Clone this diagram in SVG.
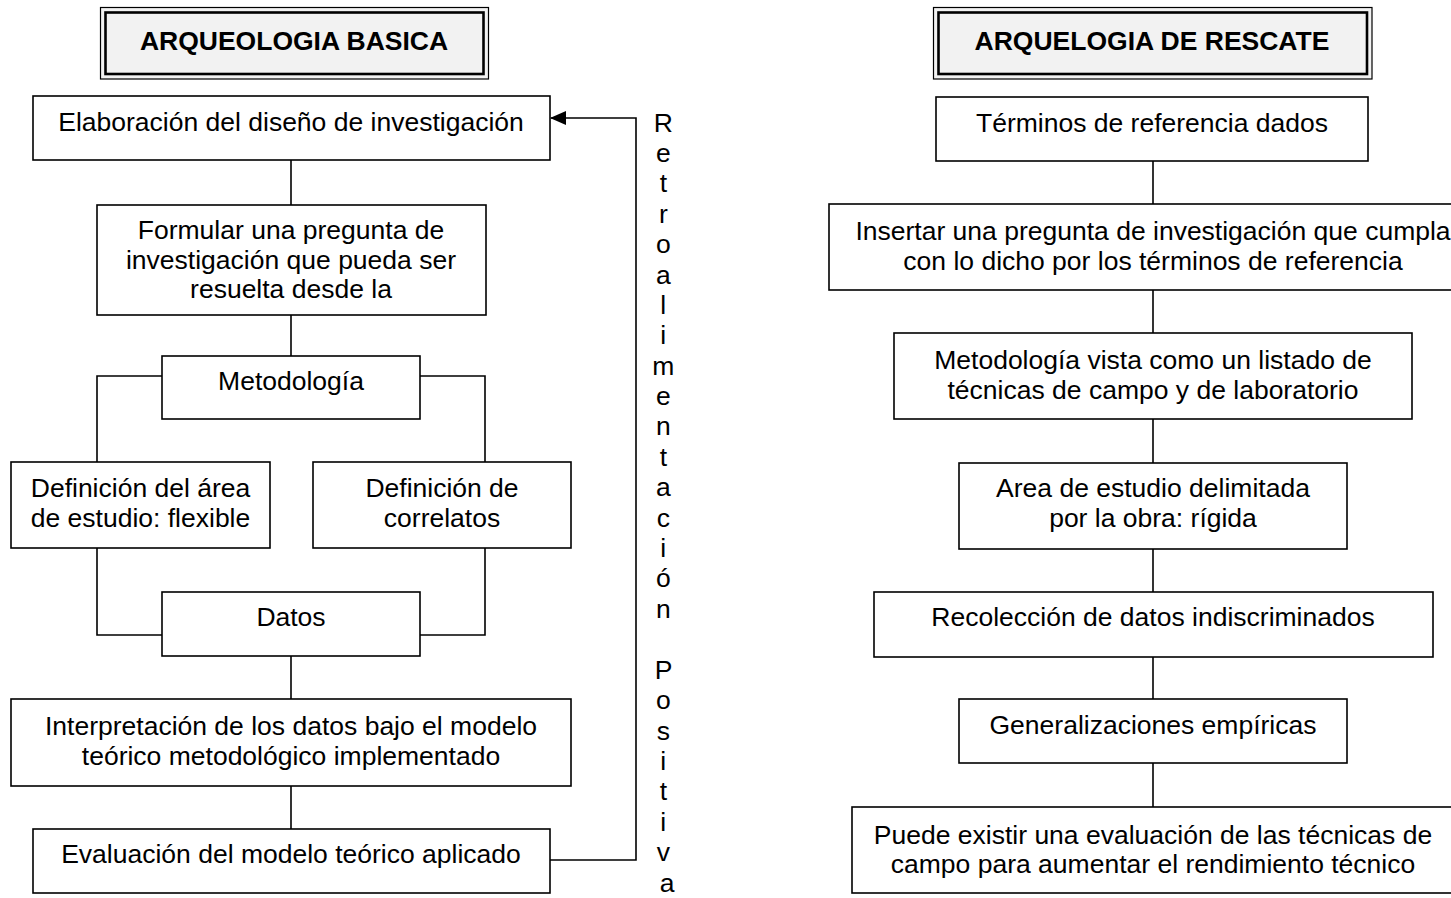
<svg xmlns="http://www.w3.org/2000/svg" width="1451" height="898" viewBox="0 0 1451 898">
<style>
  .box { fill: #ffffff; stroke: #000; stroke-width: 1.6; }
  .frame-out { fill: #f2f2f2; stroke: #000; stroke-width: 1.2; }
  .frame-in { fill: #f2f2f2; stroke: #000; stroke-width: 2.6; }
  .t { font-family: "Liberation Sans", Arial, sans-serif; font-size: 26.5px; fill: #000; text-anchor: middle; }
  .title { font-family: "Liberation Sans", Arial, sans-serif; font-size: 26.5px; font-weight: bold; fill: #000; text-anchor: middle; }
  .conn { fill: none; stroke: #000; stroke-width: 1.6; }
</style>
<defs>
  <marker id="arrow" viewBox="0 0 16 14" refX="15" refY="7" markerWidth="16" markerHeight="14" markerUnits="userSpaceOnUse" orient="auto">
    <path d="M0,0 L16,7 L0,14 Z" fill="#000"/>
  </marker>
</defs>
<rect width="1451" height="898" fill="#ffffff"/>

<g id="connectors">
  <line class="conn" x1="291" y1="160" x2="291" y2="205"/>
  <line class="conn" x1="291" y1="315" x2="291" y2="356"/>
  <polyline class="conn" points="162,376 97,376 97,462"/>
  <polyline class="conn" points="420,376 485,376 485,462"/>
  <polyline class="conn" points="97,548 97,635 162,635"/>
  <polyline class="conn" points="485,548 485,635 420,635"/>
  <line class="conn" x1="291" y1="656" x2="291" y2="699"/>
  <line class="conn" x1="291" y1="786" x2="291" y2="829"/>
  <polyline class="conn" points="550,860 636,860 636,118 551,118" marker-end="url(#arrow)"/>
  <line class="conn" x1="1153" y1="161" x2="1153" y2="204"/>
  <line class="conn" x1="1153" y1="290" x2="1153" y2="333"/>
  <line class="conn" x1="1153" y1="419" x2="1153" y2="463"/>
  <line class="conn" x1="1153" y1="549" x2="1153" y2="592"/>
  <line class="conn" x1="1153" y1="657" x2="1153" y2="699"/>
  <line class="conn" x1="1153" y1="763" x2="1153" y2="807"/>
</g>

<g id="title-basica">
  <rect class="frame-out" x="100.5" y="7.5" width="388" height="71.5"/>
  <rect class="frame-in" x="105.5" y="12.5" width="378" height="61.5"/>
  <text class="title" x="294" y="50">ARQUEOLOGIA BASICA</text>
</g>
<g id="title-rescate">
  <rect class="frame-out" x="933.5" y="7.5" width="438.5" height="71.5"/>
  <rect class="frame-in" x="938.5" y="12.5" width="428.5" height="61.5"/>
  <text class="title" x="1152" y="50">ARQUELOGIA DE RESCATE</text>
</g>

<g id="b1">
  <rect class="box" x="33" y="96" width="517" height="64"/>
  <text class="t" x="291" y="131">Elaboración del diseño de investigación</text>
</g>
<g id="b2">
  <rect class="box" x="97" y="205" width="389" height="110"/>
  <text class="t" x="291" y="239">Formular una pregunta de</text>
  <text class="t" x="291" y="268.5">investigación que pueda ser</text>
  <text class="t" x="291" y="298">resuelta desde la</text>
</g>
<g id="b3">
  <rect class="box" x="162" y="356" width="258" height="63"/>
  <text class="t" x="291" y="390">Metodología</text>
</g>
<g id="b4">
  <rect class="box" x="11" y="462" width="259" height="86"/>
  <text class="t" x="140.5" y="497">Definición del área</text>
  <text class="t" x="140.5" y="527">de estudio: flexible</text>
</g>
<g id="b5">
  <rect class="box" x="313" y="462" width="258" height="86"/>
  <text class="t" x="442" y="497">Definición de</text>
  <text class="t" x="442" y="527">correlatos</text>
</g>
<g id="b6">
  <rect class="box" x="162" y="592" width="258" height="64"/>
  <text class="t" x="291" y="626">Datos</text>
</g>
<g id="b7">
  <rect class="box" x="11" y="699" width="560" height="87"/>
  <text class="t" x="291" y="735">Interpretación de los datos bajo el modelo</text>
  <text class="t" x="291" y="765">teórico metodológico implementado</text>
</g>
<g id="b8">
  <rect class="box" x="33" y="829" width="517" height="64"/>
  <text class="t" x="291" y="863">Evaluación del modelo teórico aplicado</text>
</g>

<g id="feedback-label">
  <text class="t">
    <tspan x="667" y="131.5">R</tspan>
    <tspan x="667" dy="30.4">e</tspan>
    <tspan x="667" dy="30.4">t</tspan>
    <tspan x="667" dy="30.4">r</tspan>
    <tspan x="667" dy="30.4">o</tspan>
    <tspan x="667" dy="30.4">a</tspan>
    <tspan x="667" dy="30.4">l</tspan>
    <tspan x="667" dy="30.4">i</tspan>
    <tspan x="667" dy="30.4">m</tspan>
    <tspan x="667" dy="30.4">e</tspan>
    <tspan x="667" dy="30.4">n</tspan>
    <tspan x="667" dy="30.4">t</tspan>
    <tspan x="667" dy="30.4">a</tspan>
    <tspan x="667" dy="30.4">c</tspan>
    <tspan x="667" dy="30.4">i</tspan>
    <tspan x="667" dy="30.4">ó</tspan>
    <tspan x="667" dy="30.4">n</tspan>
    <tspan x="667" dy="60.8">P</tspan>
    <tspan x="667" dy="30.4">o</tspan>
    <tspan x="667" dy="30.4">s</tspan>
    <tspan x="667" dy="30.4">i</tspan>
    <tspan x="667" dy="30.4">t</tspan>
    <tspan x="667" dy="30.4">i</tspan>
    <tspan x="667" dy="30.4">v</tspan>
    <tspan x="667" dy="30.4">a</tspan>
  </text>
</g>

<g id="r1">
  <rect class="box" x="936" y="97" width="432" height="64"/>
  <text class="t" x="1152" y="132">Términos de referencia dados</text>
</g>
<g id="r2">
  <rect class="box" x="829" y="204" width="648" height="86"/>
  <text class="t" x="1153" y="240">Insertar una pregunta de investigación que cumpla</text>
  <text class="t" x="1153" y="270">con lo dicho por los términos de referencia</text>
</g>
<g id="r3">
  <rect class="box" x="894" y="333" width="518" height="86"/>
  <text class="t" x="1153" y="369">Metodología vista como un listado de</text>
  <text class="t" x="1153" y="399">técnicas de campo y de laboratorio</text>
</g>
<g id="r4">
  <rect class="box" x="959" y="463" width="388" height="86"/>
  <text class="t" x="1153" y="497">Area de estudio delimitada</text>
  <text class="t" x="1153" y="527">por la obra: rígida</text>
</g>
<g id="r5">
  <rect class="box" x="874" y="592" width="559" height="65"/>
  <text class="t" x="1153" y="626">Recolección de datos indiscriminados</text>
</g>
<g id="r6">
  <rect class="box" x="959" y="699" width="388" height="64"/>
  <text class="t" x="1153" y="734">Generalizaciones empíricas</text>
</g>
<g id="r7">
  <rect class="box" x="852" y="807" width="602" height="86"/>
  <text class="t" x="1153" y="844">Puede existir una evaluación de las técnicas de</text>
  <text class="t" x="1153" y="873">campo para aumentar el rendimiento técnico</text>
</g>
</svg>
